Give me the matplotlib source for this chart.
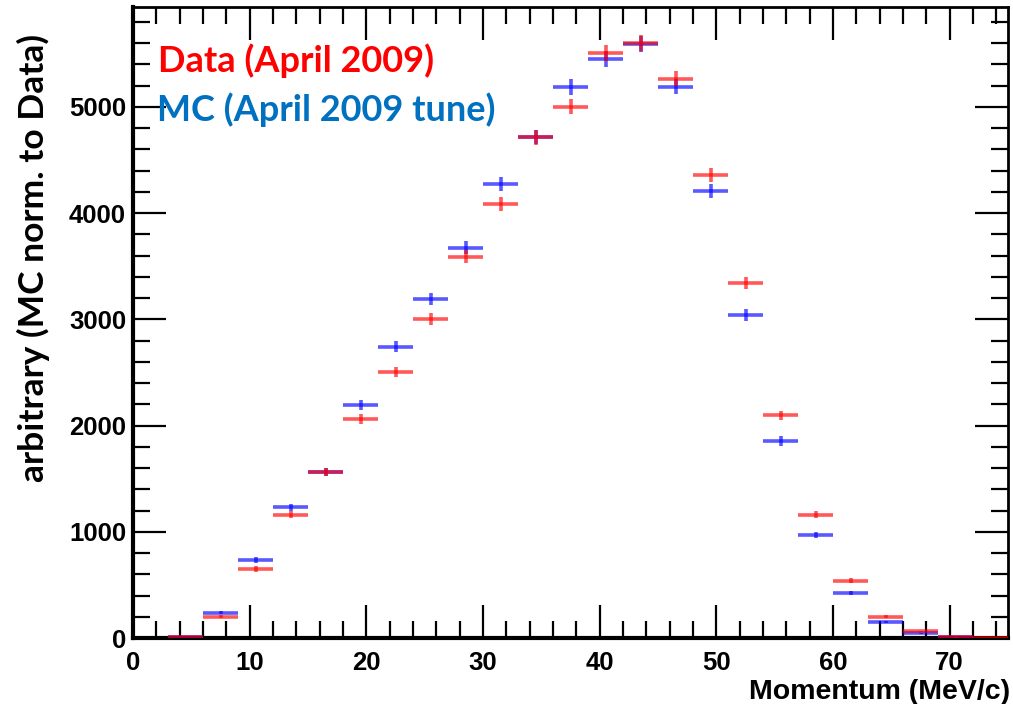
import numpy as np
import matplotlib
matplotlib.use("Agg")
import matplotlib.pyplot as plt
from matplotlib.ticker import MultipleLocator

# momentum bins, 3 MeV/c wide
bin_lo = np.arange(3, 75, 3)
bin_width = 3.0

data_counts = [10, 200, 650, 1160, 1565, 2060, 2505, 3005, 3590, 4085, 4712, 5000,
               5510, 5600, 5265, 4360, 3342, 2095, 1160, 537, 198, 62, 5, 0]
mc_counts = [10, 240, 732, 1230, 1563, 2194, 2740, 3195, 3672, 4275, 4715, 5188,
             5452, 5592, 5190, 4210, 3041, 1855, 970, 424, 150, 45, 5]

COR_DADOS = '#ff0000'
COR_MC = '#0000ff'

fig = plt.figure(figsize=(10.13, 7.04), dpi=100)
ax = fig.add_axes([133 / 1013, 1 - 638 / 704, (1008 - 133) / 1013, (638 - 7) / 704])

centros = bin_lo + bin_width / 2
mc = np.array(mc_counts, dtype=float)
dados = np.array(data_counts, dtype=float)

ax.errorbar(centros[:len(mc)], mc, xerr=bin_width / 2, yerr=np.sqrt(mc),
            fmt='none', ecolor=COR_MC, elinewidth=2.6, alpha=0.65, capsize=0, zorder=3)
ax.errorbar(centros[:len(dados)], dados, xerr=bin_width / 2, yerr=np.sqrt(dados),
            fmt='none', ecolor=COR_DADOS, elinewidth=2.6, alpha=0.65, capsize=0, zorder=4)

ax.set_xlim(0, 75)
ax.set_ylim(0, 5940)

ax.xaxis.set_major_locator(MultipleLocator(10))
ax.xaxis.set_minor_locator(MultipleLocator(2))
ax.yaxis.set_major_locator(MultipleLocator(1000))
ax.yaxis.set_minor_locator(MultipleLocator(200))

ax.tick_params(which='both', direction='in', top=True, right=True, color='black', width=1.6)
ax.tick_params(which='major', length=24)
ax.tick_params(which='minor', length=12)
ax.tick_params(axis='x', which='major', pad=9)
ax.tick_params(axis='y', which='major', pad=5)

for lab in ax.get_xticklabels() + ax.get_yticklabels():
    lab.set_family('Liberation Sans')
    lab.set_fontweight('bold')
    lab.set_fontsize(18.5)

for lado in ['left', 'bottom']:
    ax.spines[lado].set_linewidth(3)
for lado in ['top', 'right']:
    ax.spines[lado].set_linewidth(2)

fig.text(1010 / 1013, 1 - 699 / 704, 'Momentum (MeV/c)', ha='right', va='baseline',
         family='Liberation Sans', fontweight='bold', fontsize=20.5)

fig.text(33 / 1013, 1 - 258 / 704, 'arbitrary (MC norm. to Data)', rotation=90,
         ha='center', va='center', family='Lato', fontweight='bold', fontsize=25.5)

fig.text(158 / 1013, 1 - 72 / 704, 'Data (April 2009)', ha='left', va='baseline',
         family='Lato', fontweight='bold', fontsize=26, color='#ff0000')
fig.text(157 / 1013, 1 - 121 / 704, 'MC (April 2009 tune)', ha='left', va='baseline',
         family='Lato', fontweight='bold', fontsize=26, color='#0070c0')

fig.savefig('out.png', dpi=100)
